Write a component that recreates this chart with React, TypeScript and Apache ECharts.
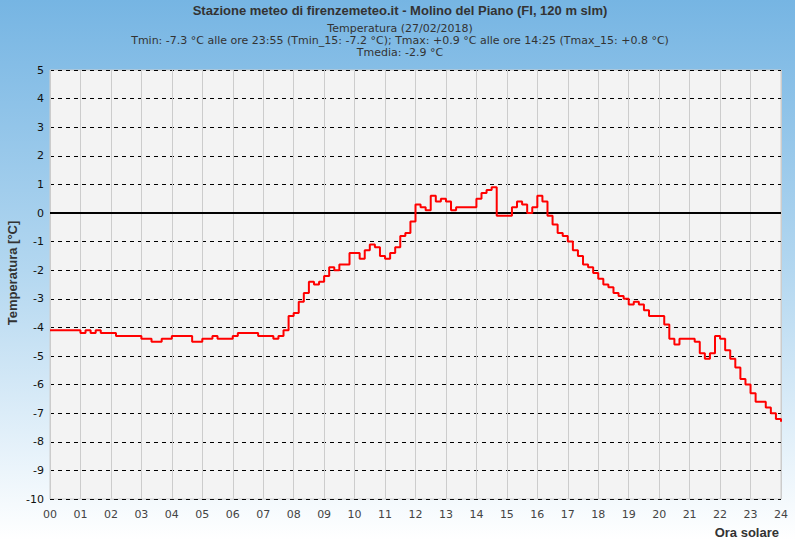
import React, { useEffect, useRef } from "react";
import * as echarts from "echarts";

const TITLE = "Stazione meteo di firenzemeteo.it - Molino del Piano (FI, 120 m slm)";
const SUBTITLE_LINES = [
  "Temperatura (27/02/2018)",
  "Tmin: -7.3 °C alle ore 23:55 (Tmin_15: -7.2 °C); Tmax: +0.9 °C alle ore 14:25 (Tmax_15: +0.8 °C)",
  "Tmedia: -2.9 °C",
];
const Y_NAME = "Temperatura [°C]";
const X_NAME = "Ora solare";

// temperature every 10 minutes, from 00:00 to 24:00 (one row per hour)
const temps: number[] = [
  -4.1, -4.1, -4.1, -4.1, -4.1, -4.1,
  -4.2, -4.1, -4.2, -4.1, -4.2, -4.2,
  -4.2, -4.3, -4.3, -4.3, -4.3, -4.3,
  -4.4, -4.4, -4.5, -4.5, -4.4, -4.4,
  -4.3, -4.3, -4.3, -4.3, -4.5, -4.5,
  -4.4, -4.4, -4.3, -4.4, -4.4, -4.4,
  -4.3, -4.2, -4.2, -4.2, -4.2, -4.3,
  -4.3, -4.3, -4.4, -4.3, -4.1, -3.6,
  -3.5, -3.1, -2.8, -2.4, -2.5, -2.4,
  -2.2, -1.9, -2.0, -1.8, -1.8, -1.4,
  -1.4, -1.6, -1.3, -1.1, -1.2, -1.5,
  -1.6, -1.4, -1.2, -0.8, -0.7, -0.3,
  0.3, 0.2, 0.1, 0.6, 0.4, 0.5,
  0.4, 0.1, 0.2, 0.2, 0.2, 0.2,
  0.5, 0.7, 0.8, 0.9, -0.1, -0.1,
  -0.1, 0.2, 0.4, 0.3, 0.0, 0.2,
  0.6, 0.4, -0.1, -0.4, -0.7, -0.8,
  -1.0, -1.3, -1.5, -1.8, -1.9, -2.1,
  -2.3, -2.5, -2.6, -2.8, -2.9, -3.0,
  -3.2, -3.1, -3.2, -3.4, -3.6, -3.6,
  -3.6, -3.9, -4.4, -4.6, -4.4, -4.4,
  -4.4, -4.5, -4.9, -5.1, -4.9, -4.3,
  -4.4, -4.8, -5.1, -5.4, -5.8, -6.0,
  -6.3, -6.6, -6.6, -6.8, -7.0, -7.2,
  -7.3,
];

const X_MIN = 0;
const X_MAX = 24;
const Y_MIN = -10;
const Y_MAX = 5;

export default function App() {
  const ref = useRef<HTMLDivElement>(null);
  useEffect(() => {
    document.body.style.margin = "0";
    if (!ref.current) return;
    const chart = echarts.init(ref.current, undefined, { renderer: "svg" });
    const data = temps.map((t, i) => [i / 6, t]);
    const subLineY = [28.5, 40.5, 52.5];
    chart.setOption({
      animation: false,
      graphic: [
        {
          type: "rect",
          z: -10,
          silent: true,
          shape: { x: 0, y: 0, width: 795, height: 540 },
          style: {
            fill: new echarts.graphic.LinearGradient(0, 0, 0, 1, [
              { offset: 0, color: "#76b5e3" },
              { offset: 0.5, color: "#b3d7f0" },
              { offset: 1, color: "#ffffff" },
            ]),
          },
        },
        {
          type: "text",
          x: 400,
          y: 10,
          style: {
            text: TITLE,
            fill: "#333",
            font: "bold 13px 'Liberation Sans Narrow', 'Liberation Sans', Arial, sans-serif",
            align: "center",
            verticalAlign: "middle",
          },
        },
        ...SUBTITLE_LINES.map((line, i) => ({
          type: "text",
          x: 400,
          y: subLineY[i],
          style: {
            text: line,
            fill: "#333",
            font: "11px 'DejaVu Sans', sans-serif",
            align: "center",
            verticalAlign: "middle",
          },
        })),
        {
          type: "text",
          x: 779,
          y: 532,
          style: {
            text: X_NAME,
            fill: "#333",
            font: "bold 13px 'Liberation Sans', Arial, sans-serif",
            align: "right",
            verticalAlign: "middle",
          },
        },
        {
          type: "text",
          x: 12,
          y: 273,
          rotation: Math.PI / 2,
          style: {
            text: Y_NAME,
            fill: "#333",
            font: "bold 13px 'Liberation Sans', Arial, sans-serif",
            align: "center",
            verticalAlign: "middle",
          },
        },
      ],
      grid: {
        left: 50,
        right: 19,
        top: 70,
        bottom: 51,
        outerBoundsMode: "none",
        containLabel: false,
        show: true,
        backgroundColor: "#f3f3f3",
        borderColor: "#cccccc",
        borderWidth: 1,
      },
      xAxis: {
        type: "value",
        min: X_MIN,
        max: X_MAX,
        interval: 1,
        axisLine: { show: false },
        axisTick: { show: false },
        axisLabel: {
          formatter: (v: number) => String(v).padStart(2, "0"),
          color: "#444",
          fontFamily: "'DejaVu Sans', sans-serif",
          fontSize: 11,
          margin: 10,
        },
        splitLine: { show: true, lineStyle: { color: "#cccccc", width: 1 } },
      },
      yAxis: {
        type: "value",
        min: Y_MIN,
        max: Y_MAX,
        interval: 1,
        axisLine: { show: false },
        axisTick: { show: false },
        axisLabel: {
          color: "#111",
          fontFamily: "'DejaVu Sans', sans-serif",
          fontSize: 11,
          margin: 6,
        },
        splitLine: {
          show: true,
          lineStyle: { color: "#000", width: 1, type: [4, 4] },
        },
      },
      series: [
        {
          type: "line",
          data,
          step: "end",
          symbol: "none",
          lineStyle: { color: "#ff0000", width: 2 },
          z: 5,
          markLine: {
            silent: true,
            symbol: "none",
            label: { show: false },
            lineStyle: { color: "#000", width: 2, type: "solid" },
            data: [{ yAxis: 0 }],
            z: 3,
          },
        },
      ],
    });
    return () => chart.dispose();
  }, []);
  return <div ref={ref} style={{ width: 800, height: 550 }} />;
}
